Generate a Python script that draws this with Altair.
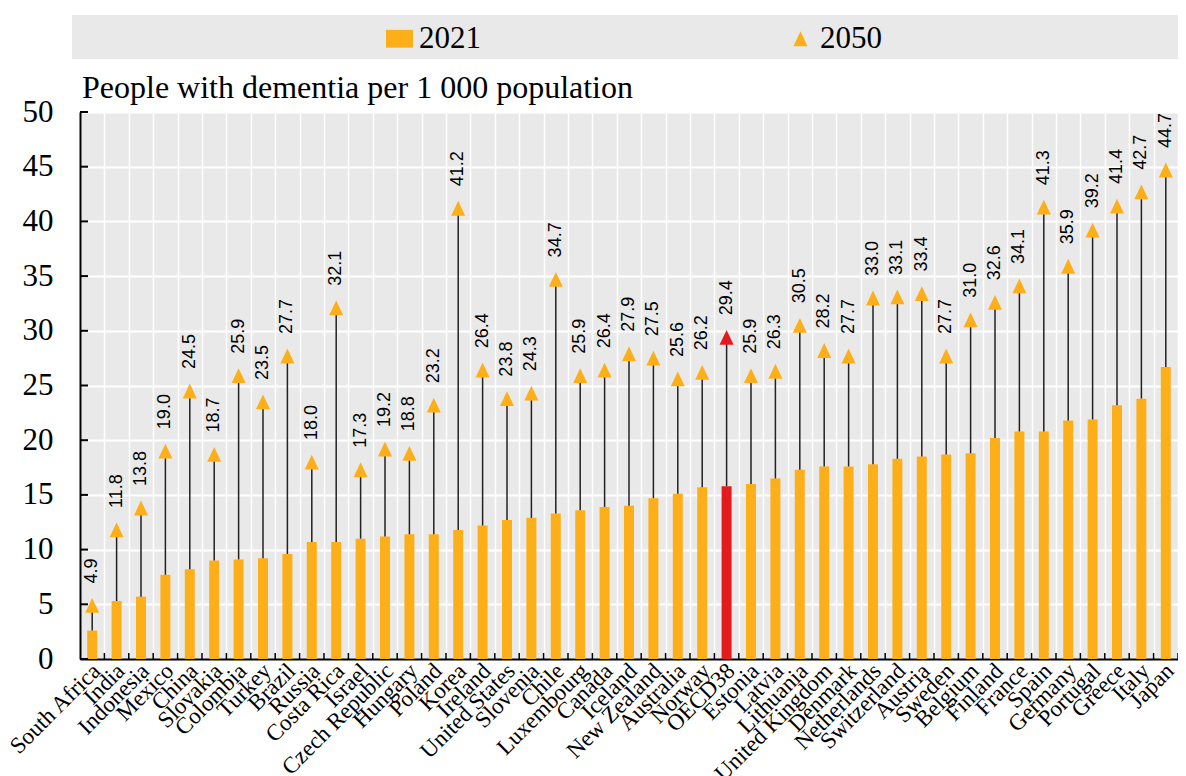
import altair as alt
import pandas as pd

countries = ["South Africa", "India", "Indonesia", "Mexico", "China", "Slovakia", "Colombia",
             "Turkey", "Brazil", "Russia", "Costa Rica", "Israel", "Czech Republic", "Hungary",
             "Poland", "Korea", "Ireland", "United States", "Slovenia", "Chile", "Luxembourg",
             "Canada", "Iceland", "New Zealand", "Australia", "Norway", "OECD38", "Estonia",
             "Latvia", "Lithuania", "United Kingdom", "Denmark", "Netherlands", "Switzerland",
             "Austria", "Sweden", "Belgium", "Finland", "France", "Spain", "Germany", "Portugal",
             "Greece", "Italy", "Japan"]
v2021 = [2.6, 5.3, 5.7, 7.7, 8.2, 9.0, 9.1, 9.2, 9.6, 10.7, 10.7, 11.0, 11.2, 11.4, 11.4,
         11.8, 12.2, 12.7, 12.9, 13.3, 13.6, 13.9, 14.0, 14.7, 15.1, 15.7, 15.8, 16.0, 16.5,
         17.3, 17.6, 17.6, 17.8, 18.3, 18.5, 18.7, 18.8, 20.2, 20.8, 20.8, 21.8, 21.9, 23.2,
         23.8, 26.7]
v2050 = [4.9, 11.8, 13.8, 19.0, 24.5, 18.7, 25.9, 23.5, 27.7, 18.0, 32.1, 17.3, 19.2, 18.8,
         23.2, 41.2, 26.4, 23.8, 24.3, 34.7, 25.9, 26.4, 27.9, 27.5, 25.6, 26.2, 29.4, 25.9,
         26.3, 30.5, 28.2, 27.7, 33.0, 33.1, 33.4, 27.7, 31.0, 32.6, 34.1, 41.3, 35.9, 39.2,
         41.4, 42.7, 44.7]
series_names = ["2021", "2050"]
yticks = [0, 5, 10, 15, 20, 25, 30, 35, 40, 45, 50]
highlight = "OECD38"
title_text = ["People with dementia per 1 000 population"]

df = pd.DataFrame({"country": countries, "v2021": v2021, "v2050": v2050})

ORANGE = "#FDAF1A"
RED = "#E31B1E"
GRAY = "#E9E9E9"
W, H = 1098, 547
step = W / len(countries)
SERIF = "Liberation Serif"
SANS = "Liberation Sans"

x_axis = alt.Axis(title=None, labelAngle=-45, labelAlign="right", labelBaseline="middle",
                  labelFont=SERIF, labelFontSize=23, labelColor="black", labelPadding=8,
                  labelOffset=4, labelOverlap=False, labelLimit=400, ticks=False,
                  domainColor="black", domainWidth=2, grid=True, gridColor="white",
                  gridWidth=1.5, gridOpacity=1, tickBand="extent")
y_axis = alt.Axis(title=None, values=yticks, labelFont=SERIF, labelFontSize=31,
                  labelColor="black", labelPadding=27, ticks=False, domainColor="black",
                  domainWidth=2, grid=True, gridColor="white", gridWidth=2, gridOpacity=1)
y_scale = alt.Scale(domain=[0, 50], nice=False)
x_scale = alt.Scale(paddingInner=0, paddingOuter=0)


def X():
    return alt.X("country:N", sort=countries, scale=x_scale, axis=x_axis)


def Y(field):
    return alt.Y(field, scale=y_scale, axis=y_axis)


leg = alt.Legend(title=None, orient="none", legendX=304, legendY=-89, direction="horizontal",
                 labelFont=SERIF, labelFontSize=31, labelColor="black", symbolSize=729,
                 columnPadding=304, labelOffset=4, padding=0, symbolStrokeWidth=0,
                 symbolOpacity=1)
color_scale = alt.Scale(domain=series_names, range=[ORANGE, ORANGE])
shape_scale = alt.Scale(domain=series_names,
                        range=["M-1,-0.66H1V0.66H-1Z", "M0,-0.55L0.52,0.55L-0.52,0.55Z"])

is_hl = alt.datum.country == highlight

band = alt.Chart(pd.DataFrame({"a": [0]})).mark_rect(color=GRAY, clip=False).encode(
    x=alt.value(-8), x2=alt.value(W + 20), y=alt.value(-97), y2=alt.value(-53))

title = alt.Chart(pd.DataFrame({"t": title_text})).mark_text(
    align="left", baseline="alphabetic", font=SERIF, fontSize=32, color="black").encode(
    text="t:N", x=alt.value(2), y=alt.value(-14))

bars = alt.Chart(df).transform_calculate(series="'2021'").mark_bar(size=10).encode(
    x=X(), y=Y("v2021:Q"),
    color=alt.condition(is_hl, alt.value(RED),
                        alt.Color("series:N", scale=color_scale, legend=leg)))

stems = alt.Chart(df).mark_rule(color="#222222", strokeWidth=1.5).encode(
    x=X(), y=Y("v2021:Q"), y2="v2050:Q")

points = alt.Chart(df).transform_calculate(series="'2050'").mark_point(
    filled=True, size=729, opacity=1).encode(
    x=X(), y=Y("v2050:Q"),
    shape=alt.Shape("series:N", scale=shape_scale, legend=leg),
    color=alt.condition(is_hl, alt.value(RED),
                        alt.Color("series:N", scale=color_scale, legend=leg)))

labels = alt.Chart(df).mark_text(angle=270, align="left", baseline="middle", dx=22,
                                 font=SANS, fontSize=18, color="black").encode(
    x=X(), y=Y("v2050:Q"), text=alt.Text("v2050:Q", format=".1f"))

xticks = alt.Chart(df).mark_rule(color="black", strokeWidth=1.5, xOffset=step / 2).encode(
    x=X(), y=alt.value(H), y2=alt.value(H - 6))

yt = alt.Chart(pd.DataFrame({"t": yticks})).mark_rule(color="black", strokeWidth=2).encode(
    x=alt.value(0), x2=alt.value(8), y=Y("t:Q"))

chart = alt.layer(band, title, bars, stems, points, labels, xticks, yt).properties(
    width=W, height=H,
    autosize=alt.AutoSizeParams(type="none"),
    padding={"left": 72, "top": 104, "right": 0, "bottom": 117},
).configure_view(fill=GRAY, strokeWidth=0)

chart.save("out.html", embed_options={"renderer": "svg", "actions": False})
